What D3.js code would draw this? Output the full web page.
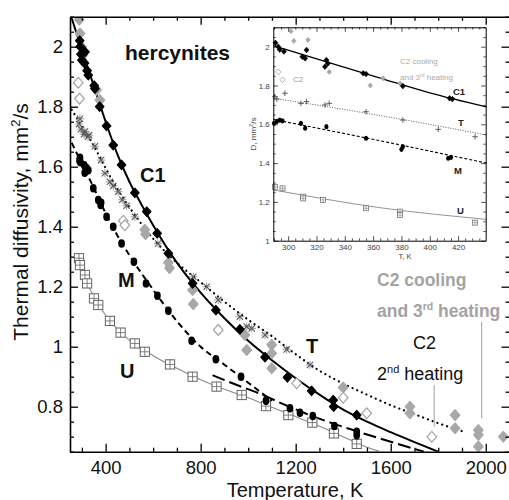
<!DOCTYPE html>
<html>
<head>
<meta charset="utf-8">
<script src="https://cdn.jsdelivr.net/npm/d3@7"></script>
<style>
  body { margin: 0; background: #fff; }
  svg { display: block; }
</style>
</head>
<body>
<svg id="chart" width="509" height="500"></svg>
<script>
// ===== Main panel: thermal diffusivity (mm²/s) vs temperature (K) =====

// C1 – measured points (black diamonds)
const c1Temp = [291, 293, 296, 300, 311, 313, 322, 327, 352, 355, 375, 404, 432, 467, 523, 573, 617, 664, 766, 864, 965, 1071, 1165, 1267, 1358, 1360, 1457];
const c1Diff = [2.02, 2.0, 1.975, 1.955, 1.945, 1.983, 1.92, 1.905, 1.87, 1.86, 1.80, 1.736, 1.672, 1.606, 1.513, 1.45, 1.378, 1.311, 1.211, 1.122, 1.058, 0.965, 0.898, 0.853, 0.822, 0.80, 0.772];
// C1 – fitted curve
const c1FitTemp = [255, 300, 350, 400, 450, 500, 550, 600, 700, 800, 900, 1000, 1100, 1200, 1300, 1400, 1500, 1600, 1700, 1800];
const c1FitDiff = [2.1, 1.99, 1.87, 1.75, 1.64, 1.55, 1.475, 1.405, 1.28, 1.18, 1.095, 1.02, 0.955, 0.895, 0.84, 0.79, 0.75, 0.715, 0.682, 0.65];

// T – measured points (crosses)
const tTemp = [288, 292, 296, 309, 313, 326, 330, 355, 381, 397, 418, 432, 453, 470, 488, 523, 621, 769, 825, 874, 965, 994, 1015, 1071, 1162, 1260];
const tDiff = [1.742, 1.76, 1.725, 1.708, 1.717, 1.70, 1.705, 1.668, 1.622, 1.578, 1.55, 1.536, 1.517, 1.49, 1.47, 1.433, 1.344, 1.233, 1.2, 1.156, 1.10, 1.067, 1.061, 1.039, 0.991, 0.939];
// T – fitted curve (dotted)
const tFitTemp = [257, 300, 350, 400, 450, 500, 600, 700, 800, 900, 1000, 1100, 1200, 1300, 1400, 1500, 1600, 1700, 1800, 1906];
const tFitDiff = [1.79, 1.735, 1.67, 1.595, 1.525, 1.465, 1.36, 1.28, 1.215, 1.15, 1.09, 1.035, 0.975, 0.92, 0.877, 0.84, 0.805, 0.775, 0.745, 0.717];

// M – measured points (black ovals)
const mTemp = [290, 292, 294, 310, 312, 320, 327, 348, 369, 379, 381, 404, 432, 467, 519, 570, 618, 664, 762, 864, 970, 1075, 1176, 1218, 1272, 1363, 1457, 1457];
const mDiff = [1.62, 1.63, 1.615, 1.605, 1.58, 1.595, 1.588, 1.528, 1.489, 1.472, 1.48, 1.433, 1.40, 1.344, 1.283, 1.211, 1.17, 1.12, 1.02, 0.958, 0.90, 0.82, 0.795, 0.78, 0.769, 0.736, 0.717, 0.705];
// M – fit below 1100 K (dashed) and above 850 K (long dashes)
const mFitLowTemp = [257, 300, 350, 400, 450, 500, 600, 700, 800, 900, 1000, 1100];
const mFitLowDiff = [1.68, 1.61, 1.53, 1.445, 1.37, 1.305, 1.19, 1.085, 1.0, 0.94, 0.88, 0.82];
const mFitHighTemp = [850, 950, 1050, 1150, 1250, 1350, 1450, 1600, 1740];
const mFitHighDiff = [0.905, 0.873, 0.843, 0.808, 0.775, 0.746, 0.72, 0.683, 0.65];

// U – measured points (squares with cross)
const uTemp = [288, 292, 313, 322, 351, 369, 418, 463, 523, 565, 671, 766, 867, 973, 1075, 1169, 1270, 1361, 1457];
const uDiff = [1.295, 1.272, 1.239, 1.211, 1.161, 1.139, 1.086, 1.047, 1.011, 0.983, 0.941, 0.90, 0.867, 0.839, 0.802, 0.772, 0.747, 0.711, 0.676];
// U – fitted curve (thin grey)
const uFitTemp = [285, 300, 350, 400, 450, 500, 600, 700, 800, 900, 1000, 1100, 1200, 1300, 1400, 1500, 1550];
const uFitDiff = [1.29, 1.25, 1.17, 1.105, 1.058, 1.022, 0.97, 0.928, 0.89, 0.858, 0.83, 0.798, 0.767, 0.735, 0.70, 0.665, 0.652];

// C2 cooling and 3rd heating (grey filled diamonds)
const c2cTemp = [289, 292, 299, 305, 362, 376, 565, 568, 664, 669, 766, 769, 986, 994, 1099, 1099, 1099, 1400, 1681, 1681, 1871, 1871, 1969, 1969, 1969, 2074];
const c2cDiff = [2.09, 2.044, 2.0, 1.972, 1.856, 1.822, 1.39, 1.375, 1.28, 1.262, 1.189, 1.142, 1.039, 0.989, 1.006, 0.978, 0.928, 0.864, 0.80, 0.778, 0.772, 0.728, 0.722, 0.706, 0.667, 0.70];
// C2 2nd heating (open grey diamonds)
const c2hTemp = [285, 290, 474, 481, 874, 1204, 1400, 1499, 1773];
const c2hDiff = [1.88, 1.827, 1.42, 1.405, 1.056, 0.878, 0.83, 0.778, 0.70];

// Leader lines for the C2 annotations: [T, D from, D to]
const leaders = [[1783, 0.872, 0.733], [1983, 1.083, 0.761]];

// Axis ticks
const xMajor = [400, 800, 1200, 1600, 2000];
const yMajor = [0.8, 1.0, 1.2, 1.4, 1.6, 1.8, 2.0];

// ===== Inset: room-temperature range =====
const iC1Temp = [291, 293, 294, 297, 310, 312, 313, 327, 328, 326, 353, 355, 381, 414, 416];
const iC1Diff = [2.02, 2.0, 1.985, 1.975, 1.948, 1.94, 1.983, 1.931, 1.914, 1.897, 1.863, 1.859, 1.797, 1.734, 1.73];
const iC1FitTemp = [289.5, 330, 365, 400, 440];
const iC1FitDiff = [2.005, 1.915, 1.838, 1.762, 1.69];

const iTTemp = [290.6, 292, 297.7, 309, 313, 326, 329, 355, 381, 406, 432];
const iTDiff = [1.742, 1.73, 1.76, 1.708, 1.717, 1.70, 1.708, 1.665, 1.622, 1.574, 1.536];
const iTFitTemp = [289.5, 365, 440];
const iTFitDiff = [1.735, 1.645, 1.545];

const iMTemp = [290, 292, 294, 296, 309, 312, 327, 355, 380, 381, 413, 415];
const iMDiff = [1.605, 1.615, 1.622, 1.618, 1.605, 1.58, 1.588, 1.528, 1.471, 1.485, 1.425, 1.43];
const iMFitTemp = [289.5, 365, 440];
const iMFitDiff = [1.625, 1.515, 1.40];

const iUTemp = [290.6, 296, 310.6, 310.6, 324.7, 355, 379, 379, 432];
const iUDiff = [1.278, 1.27, 1.227, 1.218, 1.21, 1.167, 1.15, 1.132, 1.093];
const iUFitTemp = [289.5, 365, 440];
const iUFitDiff = [1.262, 1.17, 1.11];

const iC2cTemp = [302, 304, 314, 329, 358, 367, 379];
const iC2cDiff = [2.08, 2.03, 2.035, 1.87, 1.80, 1.837, 1.81];
const iC2hTemp = [293, 296];
const iC2hDiff = [1.87, 1.83];

const ixMajor = [300, 320, 340, 360, 380, 400, 420];
const iyMajor = [1.0, 1.2, 1.4, 1.6, 1.8, 2.0];

// ===== drawing =====
const FONT = "'Liberation Sans', Arial, Helvetica, sans-serif";
const svg = d3.select('#chart');
const pairs = (t, d) => t.map((v, i) => [v, d[i]]);
const fmt = d3.format('~g');

const x = d3.scaleLinear().domain([250, 2100]).range([70, 509.5]);
const y = d3.scaleLinear().domain([0.65, 2.1]).range([451.7, 16.7]);

const xMinor = d3.range(300, 2101, 100).filter(v => !xMajor.includes(v));
const yMinor = d3.range(13, 43).filter(k => k % 4 !== 0).map(k => +(k * 0.05).toFixed(2));

function styleAxis(g, fontSize, w) {
  g.attr('font-family', FONT).attr('font-size', fontSize);
  g.selectAll('text').attr('fill', '#111');
  g.selectAll('.tick line').attr('stroke', '#000').attr('stroke-width', w);
  g.select('.domain').attr('stroke', '#000').attr('stroke-width', w + 0.3);
}

function frameAxes(root, sx, sy, o) {
  const [x0, x1] = sx.range();
  const [y0, y1] = sy.range();
  // bottom
  root.append('g').attr('transform', `translate(0,${y0})`)
    .call(d3.axisBottom(sx).tickValues(o.xMajor).tickSize(-o.major).tickSizeOuter(0)
      .tickPadding(o.xPad).tickFormat(d3.format('d')))
    .call(g => styleAxis(g, o.font, o.w));
  root.append('g').attr('transform', `translate(0,${y0})`)
    .call(d3.axisBottom(sx).tickValues(o.xMinor).tickSize(-o.minor).tickFormat(''))
    .call(g => { g.select('.domain').remove(); styleAxis(g, o.font, o.w); });
  // top
  root.append('g').attr('transform', `translate(0,${y1})`)
    .call(d3.axisTop(sx).tickValues(o.xMajor).tickSize(-o.major).tickSizeOuter(0).tickFormat(''))
    .call(g => styleAxis(g, o.font, o.w));
  root.append('g').attr('transform', `translate(0,${y1})`)
    .call(d3.axisTop(sx).tickValues(o.xMinor).tickSize(-o.minor).tickFormat(''))
    .call(g => { g.select('.domain').remove(); styleAxis(g, o.font, o.w); });
  // left
  root.append('g').attr('transform', `translate(${x0},0)`)
    .call(d3.axisLeft(sy).tickValues(o.yMajor).tickSize(-o.major).tickSizeOuter(0)
      .tickPadding(o.yPad).tickFormat(fmt))
    .call(g => styleAxis(g, o.font, o.w));
  root.append('g').attr('transform', `translate(${x0},0)`)
    .call(d3.axisLeft(sy).tickValues(o.yMinor).tickSize(-o.minor).tickFormat(''))
    .call(g => { g.select('.domain').remove(); styleAxis(g, o.font, o.w); });
  // right
  root.append('g').attr('transform', `translate(${x1},0)`)
    .call(d3.axisRight(sy).tickValues(o.yMajor).tickSize(-o.major).tickSizeOuter(0).tickFormat(''))
    .call(g => styleAxis(g, o.font, o.w));
  root.append('g').attr('transform', `translate(${x1},0)`)
    .call(d3.axisRight(sy).tickValues(o.yMinor).tickSize(-o.minor).tickFormat(''))
    .call(g => { g.select('.domain').remove(); styleAxis(g, o.font, o.w); });
}

// ---- marker shapes ----
const diamondPath = r => `M0,${-r * 1.12}L${r},0L0,${r * 1.12}L${-r},0Z`;
const mk = {
  blackDiamond: r => s => s.append('path').attr('d', diamondPath(r)).attr('fill', '#000')
    .attr('stroke', '#000').attr('stroke-width', r * 0.25).attr('stroke-linejoin', 'round'),
  oval: r => s => s.append('ellipse').attr('rx', r * 0.8).attr('ry', r).attr('fill', '#000'),
  greyDiamond: r => s => s.append('path').attr('d', diamondPath(r)).attr('fill', '#a8a8a8')
    .attr('stroke', '#a8a8a8').attr('stroke-width', r * 0.25).attr('stroke-linejoin', 'round'),
  openDiamond: r => s => s.append('path').attr('d', diamondPath(r)).attr('fill', '#fff')
    .attr('stroke', '#a4a4a4').attr('stroke-width', Math.max(0.8, r * 0.26)),
  asterisk: r => s => {
    const k = r * 0.75;
    s.append('path').attr('d', `M${-k},${-k}L${k},${k}M${-k},${k}L${k},${-k}`)
      .attr('stroke', '#555').attr('stroke-width', Math.max(0.8, r * 0.26));
    s.append('path').attr('d', `M${-r},0L${r},0M0,${-r}L0,${r}`)
      .attr('stroke', '#666').attr('stroke-width', Math.max(0.6, r * 0.15));
  },
  plus: r => s => s.append('path').attr('d', `M${-r},0L${r},0M0,${-r}L0,${r}`)
    .attr('stroke', '#444').attr('stroke-width', Math.max(0.7, r * 0.3)),
  gridSquare: r => s => {
    s.append('rect').attr('x', -r).attr('y', -r).attr('width', 2 * r).attr('height', 2 * r)
      .attr('fill', '#fff').attr('stroke', '#666').attr('stroke-width', Math.max(0.7, r * 0.22));
    s.append('path').attr('d', `M${-r},0L${r},0M0,${-r}L0,${r}`)
      .attr('stroke', '#666').attr('stroke-width', Math.max(0.5, r * 0.18));
  }
};

function points(g, data, sx, sy, draw) {
  g.append('g').selectAll('g').data(data).join('g')
    .attr('transform', d => `translate(${sx(d[0])},${sy(d[1])})`)
    .each(function () { draw(d3.select(this)); });
}

function curve(g, data, sx, sy, style) {
  const line = d3.line().x(d => sx(d[0])).y(d => sy(d[1])).curve(d3.curveMonotoneX);
  g.append('path').datum(data).attr('d', line).attr('fill', 'none')
    .attr('stroke', style.color || '#000').attr('stroke-width', style.width)
    .attr('stroke-dasharray', style.dash || null)
    .attr('stroke-linecap', style.cap || 'butt');
}

// ---- main panel ----
svg.append('defs').append('clipPath').attr('id', 'plotArea')
  .append('rect').attr('x', 70).attr('y', 16.7).attr('width', 439.5).attr('height', 435);

const plot = svg.append('g').attr('clip-path', 'url(#plotArea)');

curve(plot, pairs(uFitTemp, uFitDiff), x, y, { color: '#8a8a8a', width: 1.1 });
curve(plot, pairs(mFitLowTemp, mFitLowDiff), x, y, { width: 2, dash: '6,4' });
curve(plot, pairs(mFitHighTemp, mFitHighDiff), x, y, { width: 2, dash: '13,5' });
curve(plot, pairs(tFitTemp, tFitDiff), x, y, { width: 2.2, dash: '0.1,5', cap: 'round' });
curve(plot, pairs(c1FitTemp, c1FitDiff), x, y, { width: 2 });

// C2 leader lines
plot.append('g').selectAll('line').data(leaders).join('line')
  .attr('x1', d => x(d[0])).attr('x2', d => x(d[0]))
  .attr('y1', d => y(d[1])).attr('y2', d => y(d[2]))
  .attr('stroke', '#a0a0a0').attr('stroke-width', 1);

points(plot, pairs(uTemp, uDiff), x, y, mk.gridSquare(4.6));
points(plot, pairs(c2cTemp, c2cDiff), x, y, mk.greyDiamond(4.8));
points(plot, pairs(c2hTemp, c2hDiff), x, y, mk.openDiamond(4.8));
points(plot, pairs(tTemp, tDiff), x, y, mk.asterisk(4.2));
points(plot, pairs(mTemp, mDiff), x, y, mk.oval(4.2));
points(plot, pairs(c1Temp, c1Diff), x, y, mk.blackDiamond(4.3));

frameAxes(svg, x, y, {
  xMajor, xMinor, yMajor, yMinor,
  major: 8, minor: 4, xPad: 9, yPad: 7, font: 18.5, w: 1.3
});

// axis titles
svg.append('text').attr('x', 295).attr('y', 497).attr('text-anchor', 'middle')
  .attr('font-family', FONT).attr('font-size', 20).attr('fill', '#111')
  .text('Temperature, K');
const yt = svg.append('text').attr('transform', 'translate(28,222) rotate(-90)')
  .attr('text-anchor', 'middle').attr('font-family', FONT).attr('font-size', 21).attr('fill', '#111');
yt.append('tspan').text('Thermal diffusivity, mm');
yt.append('tspan').attr('dy', -8).attr('font-size', 13).text('2');
yt.append('tspan').attr('dy', 8).text('/s');

// series and annotation labels
const lab = (tx, ty, txt, size, weight, color) => svg.append('text')
  .attr('x', tx).attr('y', ty).attr('font-family', FONT).attr('font-size', size)
  .attr('font-weight', weight).attr('fill', color).text(txt);
lab(125, 60, 'hercynites', 21, 'bold', '#111');
lab(140, 182, 'C1', 20, 'bold', '#111');
lab(118, 287, 'M', 20, 'bold', '#111');
lab(120, 378, 'U', 20, 'bold', '#111');
lab(306, 353, 'T', 20, 'bold', '#111');
lab(377, 286, 'C2 cooling', 17.5, 'bold', '#a3a3a3');
const and3 = lab(377, 317, 'and 3', 17.5, 'bold', '#a3a3a3');
and3.append('tspan').attr('dy', -7).attr('font-size', 10.5).text('rd');
and3.append('tspan').attr('dy', 7).text(' heating');
lab(413, 349, 'C2', 18, 'normal', '#111');
const sec = lab(377, 380, '2', 18, 'normal', '#111');
sec.append('tspan').attr('dy', -7).attr('font-size', 11).text('nd');
sec.append('tspan').attr('dy', 7).text(' heating');

// ---- inset ----
const ix = d3.scaleLinear().domain([289.5, 439.5]).range([273.3, 485.7]);
const iy = d3.scaleLinear().domain([1, 2.1]).range([240.7, 27.3]);
const ixMinor = d3.range(290, 440, 5).filter(v => !ixMajor.includes(v));
const iyMinor = d3.range(21, 43).filter(k => k % 4 !== 0).map(k => +(k * 0.05).toFixed(2));

const inset = svg.append('g');
inset.append('rect').attr('x', 273.3).attr('y', 27.3).attr('width', 212.4).attr('height', 213.4)
  .attr('fill', '#fff');

curve(inset, pairs(iUFitTemp, iUFitDiff), ix, iy, { color: '#777', width: 0.8 });
curve(inset, pairs(iMFitTemp, iMFitDiff), ix, iy, { width: 1.1, dash: '3,2' });
curve(inset, pairs(iTFitTemp, iTFitDiff), ix, iy, { width: 1, dash: '0.1,2.4', cap: 'round', color: '#333' });
curve(inset, pairs(iC1FitTemp, iC1FitDiff), ix, iy, { width: 1.3 });

points(inset, pairs(iUTemp, iUDiff), ix, iy, mk.gridSquare(2.5));
points(inset, pairs(iC2cTemp, iC2cDiff), ix, iy, mk.greyDiamond(2.3));
points(inset, pairs(iC2hTemp, iC2hDiff), ix, iy, mk.openDiamond(2.6));
points(inset, pairs(iTTemp, iTDiff), ix, iy, mk.plus(2.8));
points(inset, pairs(iMTemp, iMDiff), ix, iy, mk.oval(2.6));
points(inset, pairs(iC1Temp, iC1Diff), ix, iy, mk.blackDiamond(2.5));

frameAxes(inset, ix, iy, {
  xMajor: ixMajor, xMinor: ixMinor, yMajor: iyMajor, yMinor: iyMinor,
  major: 4.5, minor: 2.3, xPad: 3.5, yPad: 3.5, font: 8, w: 0.7
});
inset.selectAll('text').attr('fill', '#444');

const ilab = (tx, ty, txt, size, weight, color) => inset.append('text')
  .attr('x', tx).attr('y', ty).attr('font-family', FONT).attr('font-size', size)
  .attr('font-weight', weight).attr('fill', color).text(txt);
ilab(405, 259, 'T, K', 7.5, 'normal', '#444').attr('text-anchor', 'middle');
const iyt = inset.append('text').attr('transform', 'translate(256,134) rotate(-90)')
  .attr('text-anchor', 'middle').attr('font-family', FONT).attr('font-size', 8).attr('fill', '#444');
iyt.append('tspan').text('D, mm');
iyt.append('tspan').attr('dy', -3).attr('font-size', 5.5).text('2');
iyt.append('tspan').attr('dy', 3).text('/s');

ilab(453, 95, 'C1', 9.5, 'bold', '#222');
ilab(458, 126, 'T', 9.5, 'bold', '#222');
ilab(454, 174, 'M', 9.5, 'bold', '#222');
ilab(457, 214, 'U', 9.5, 'bold', '#222');
ilab(400, 64, 'C2 cooling', 8, 'normal', '#aaa');
const iand = ilab(400, 80, 'and 3', 8, 'normal', '#aaa');
iand.append('tspan').attr('dy', -3).attr('font-size', 5).text('rd');
iand.append('tspan').attr('dy', 3).text(' heating');
ilab(293, 82, 'C2', 8, 'normal', '#999');
</script>
</body>
</html>
